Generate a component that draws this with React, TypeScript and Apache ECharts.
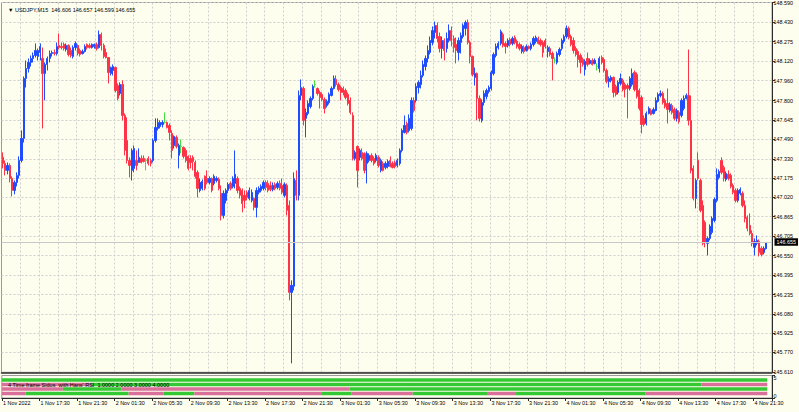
import React, { useEffect, useRef } from 'react';
import * as echarts from 'echarts';

const symbolName = 'USDJPY,M15';
const startTimeUtc = Date.UTC(2022, 10, 1, 13, 30);
const barMinutes = 15;
const emptySlotsRight = 2;

// candles: [open, close, low, high]
const nov1: number[][] = [
  [147.342, 147.293, 147.253, 147.382], [147.293, 147.237, 147.197, 147.317], [147.237, 147.277, 147.205, 147.301],
  [147.277, 147.172, 147.140, 147.293], [147.172, 147.076, 147.027, 147.189], [147.076, 147.140, 147.044, 147.156],
  [147.140, 147.197, 147.108, 147.221], [147.197, 147.317, 147.172, 147.350], [147.317, 147.495, 147.301, 147.559],
  [147.495, 147.978, 147.462, 147.994], [147.978, 148.058, 147.905, 148.123], [148.058, 148.107, 148.026, 148.139],
  [148.107, 148.139, 148.074, 148.163], [148.139, 148.163, 148.107, 148.187], [148.163, 148.203, 148.147, 148.260],
  [148.155, 148.203, 148.123, 148.219], [148.187, 148.236, 148.123, 148.260], [148.139, 148.018, 147.575, 148.227],
  [148.018, 148.091, 147.801, 148.107], [148.091, 148.139, 148.042, 148.155], [148.139, 148.179, 148.107, 148.203],
  [148.179, 148.187, 148.155, 148.203], [148.187, 148.179, 148.163, 148.211], [148.179, 148.236, 148.163, 148.268],
  [148.244, 148.227, 148.211, 148.340], [148.236, 148.227, 148.211, 148.268], [148.252, 148.219, 148.203, 148.268],
  [148.211, 148.244, 148.195, 148.260], [148.244, 148.171, 148.155, 148.252], [148.203, 148.163, 148.147, 148.227],
  [148.155, 148.227, 148.139, 148.244], [148.227, 148.260, 148.203, 148.276], [148.244, 148.179, 148.163, 148.252],
  [148.203, 148.171, 148.155, 148.219], [148.179, 148.195, 148.171, 148.211], [148.195, 148.236, 148.187, 148.252],
  [148.252, 148.227, 148.211, 148.260], [148.244, 148.227, 148.219, 148.260], [148.227, 148.252, 148.219, 148.260],
  [148.236, 148.252, 148.219, 148.260], [148.252, 148.219, 148.203, 148.268], [148.227, 148.332, 148.219, 148.364],
];

const nov2: number[][] = [
  [148.332, 148.244, 148.203, 148.348], [148.244, 148.155, 148.139, 148.260], [148.187, 148.147, 148.139, 148.219],
  [148.147, 148.026, 147.938, 148.147], [148.018, 148.066, 148.002, 148.074], [148.042, 148.074, 148.002, 148.091],
  [148.066, 147.881, 147.865, 148.074], [147.921, 147.817, 147.801, 147.938], [147.857, 147.929, 147.841, 147.946],
  [147.929, 147.680, 147.640, 147.962], [147.680, 147.398, 147.358, 147.696], [147.478, 147.317, 147.293, 147.664],
  [147.317, 147.277, 147.180, 147.342], [147.237, 147.398, 147.156, 147.414], [147.253, 147.414, 147.221, 147.438],
  [147.317, 147.277, 147.237, 147.398], [147.301, 147.342, 147.301, 147.414], [147.333, 147.301, 147.293, 147.358],
  [147.333, 147.309, 147.301, 147.358], [147.317, 147.317, 147.237, 147.333], [147.333, 147.293, 147.277, 147.350],
  [147.317, 147.293, 147.269, 147.333], [147.317, 147.478, 147.301, 147.495], [147.478, 147.583, 147.462, 147.656],
  [147.575, 147.623, 147.559, 147.656], [147.591, 147.623, 147.575, 147.640], [147.607, 147.623, 147.583, 147.640],
  [147.623, 147.623, 147.615, 147.704], [147.623, 147.583, 147.575, 147.631], [147.599, 147.543, 147.478, 147.615],
  [147.535, 147.398, 147.333, 147.559], [147.438, 147.511, 147.414, 147.519], [147.503, 147.430, 147.414, 147.519],
  [147.358, 147.438, 147.253, 147.454], [147.430, 147.430, 147.374, 147.487], [147.422, 147.350, 147.333, 147.430],
  [147.398, 147.317, 147.301, 147.414], [147.350, 147.253, 147.237, 147.358], [147.333, 147.301, 147.253, 147.358],
  [147.342, 147.309, 147.237, 147.358], [147.301, 147.189, 147.172, 147.317], [147.221, 147.092, 147.019, 147.237],
  [147.076, 147.140, 147.060, 147.172], [147.092, 147.148, 147.076, 147.164], [147.189, 147.092, 147.076, 147.197],
  [147.172, 147.140, 147.124, 147.237], [147.140, 147.172, 147.124, 147.189], [147.172, 147.076, 147.060, 147.180],
  [147.132, 147.189, 147.116, 147.205], [147.156, 147.172, 147.140, 147.189], [147.164, 147.092, 147.076, 147.180],
  [147.052, 146.874, 146.834, 147.116], [146.874, 147.052, 146.850, 147.076], [146.995, 147.076, 146.971, 147.092],
  [147.076, 147.124, 147.052, 147.140], [147.132, 147.092, 147.076, 147.148], [147.108, 147.172, 147.092, 147.189],
  [147.132, 147.205, 147.092, 147.398], [147.172, 147.076, 147.052, 147.189], [147.092, 147.036, 147.011, 147.108],
  [147.076, 146.971, 146.899, 147.092], [147.036, 146.995, 146.931, 147.076], [147.060, 147.019, 146.995, 147.076],
  [147.011, 147.076, 146.995, 147.100], [146.995, 147.060, 146.979, 147.084], [147.011, 146.939, 146.915, 147.019],
  [146.939, 147.076, 146.858, 147.100], [147.060, 147.092, 147.044, 147.108], [147.076, 147.108, 147.060, 147.124],
  [147.092, 147.140, 147.076, 147.156], [147.140, 147.100, 147.076, 147.156], [147.132, 147.076, 147.060, 147.156],
  [147.116, 147.084, 147.068, 147.148], [147.084, 147.116, 147.068, 147.140], [147.124, 147.092, 147.076, 147.140],
  [147.100, 147.132, 147.084, 147.148], [147.132, 147.092, 147.076, 147.156], [147.116, 147.060, 147.044, 147.172],
  [147.036, 147.124, 147.019, 147.140], [147.116, 146.915, 146.874, 147.132], [146.955, 146.254, 146.190, 146.995],
  [146.254, 146.311, 145.682, 146.351], [146.303, 147.172, 146.270, 147.221], [147.156, 147.036, 146.995, 147.237],
  [147.036, 147.841, 146.995, 147.881], [147.841, 147.905, 147.801, 147.970], [147.897, 147.640, 147.599, 147.913],
  [147.656, 147.704, 147.503, 147.736], [147.696, 147.776, 147.680, 147.801], [147.752, 147.817, 147.736, 147.833],
  [147.817, 147.913, 147.801, 147.929], [147.929, 147.929, 147.905, 147.962], [147.897, 147.857, 147.841, 147.905],
  [147.865, 147.825, 147.736, 147.881], [147.849, 147.809, 147.793, 147.865], [147.809, 147.736, 147.696, 147.825],
];

const nov3: number[][] = [
  [147.760, 147.793, 147.744, 147.809], [147.784, 147.849, 147.768, 147.865], [147.841, 147.897, 147.833, 147.913],
  [147.897, 147.978, 147.889, 148.002], [147.970, 147.929, 147.913, 148.002], [147.929, 147.889, 147.873, 147.946],
  [147.905, 147.865, 147.801, 147.921], [147.897, 147.865, 147.841, 147.913], [147.881, 147.825, 147.809, 147.897],
  [147.849, 147.776, 147.760, 147.865], [147.801, 147.704, 147.688, 147.825], [147.680, 147.333, 147.317, 147.704],
  [147.333, 147.382, 147.317, 147.398], [147.430, 147.237, 147.100, 147.438], [147.342, 147.398, 147.317, 147.414],
  [147.382, 147.333, 147.317, 147.414], [147.374, 147.237, 147.213, 147.382], [147.293, 147.374, 147.132, 147.390],
  [147.317, 147.358, 147.301, 147.374], [147.358, 147.317, 147.301, 147.374], [147.333, 147.293, 147.277, 147.350],
  [147.317, 147.358, 147.301, 147.374], [147.342, 147.277, 147.261, 147.358], [147.237, 147.317, 147.221, 147.333],
  [147.293, 147.237, 147.229, 147.309], [147.261, 147.293, 147.245, 147.309], [147.269, 147.309, 147.253, 147.325],
  [147.317, 147.269, 147.261, 147.350], [147.293, 147.261, 147.253, 147.309], [147.301, 147.269, 147.253, 147.317],
  [147.277, 147.317, 147.261, 147.333], [147.293, 147.398, 147.277, 147.414], [147.398, 147.559, 147.382, 147.575],
  [147.543, 147.599, 147.535, 147.680], [147.615, 147.543, 147.527, 147.631], [147.559, 147.656, 147.543, 147.688],
  [147.575, 147.801, 147.559, 147.825], [147.801, 147.720, 147.704, 147.825], [147.801, 147.913, 147.784, 147.938],
  [147.905, 147.946, 147.857, 147.962], [147.929, 148.002, 147.897, 148.042], [148.002, 148.091, 147.986, 148.123],
  [148.074, 148.139, 148.042, 148.163], [148.139, 148.203, 148.107, 148.244], [148.187, 148.284, 148.171, 148.316],
  [148.268, 148.364, 148.244, 148.397], [148.348, 148.405, 148.300, 148.437], [148.405, 148.300, 148.268, 148.429],
  [148.316, 148.219, 148.187, 148.348], [148.219, 148.284, 148.139, 148.316], [148.284, 148.203, 148.123, 148.300],
  [148.219, 148.300, 148.187, 148.348], [148.284, 148.364, 148.268, 148.413], [148.364, 148.284, 148.236, 148.397],
  [148.300, 148.227, 148.187, 148.324], [148.252, 148.203, 148.099, 148.308], [148.187, 148.284, 148.123, 148.308],
  [148.268, 148.324, 148.179, 148.348], [148.316, 148.405, 148.300, 148.421], [148.381, 148.429, 148.324, 148.445],
  [148.429, 148.268, 148.252, 148.453], [148.268, 148.155, 148.099, 148.284], [148.155, 148.010, 147.994, 148.163],
  [147.986, 148.018, 147.921, 148.066], [148.018, 147.817, 147.640, 148.026], [147.817, 147.656, 147.631, 147.841],
  [147.640, 147.784, 147.623, 147.809], [147.784, 147.857, 147.760, 147.881], [147.833, 147.881, 147.809, 147.897],
  [147.873, 147.905, 147.857, 147.921], [147.897, 148.026, 147.881, 148.042], [148.018, 148.171, 148.002, 148.187],
  [148.163, 148.236, 148.147, 148.260], [148.227, 148.260, 148.211, 148.276], [148.260, 148.356, 148.244, 148.372],
  [148.332, 148.244, 148.227, 148.348], [148.260, 148.236, 148.179, 148.276], [148.244, 148.284, 148.227, 148.300],
  [148.292, 148.252, 148.236, 148.308], [148.260, 148.300, 148.244, 148.316], [148.308, 148.268, 148.252, 148.324],
  [148.276, 148.236, 148.219, 148.292], [148.252, 148.219, 148.203, 148.268], [148.195, 148.236, 148.179, 148.252],
  [148.227, 148.195, 148.179, 148.244], [148.203, 148.236, 148.195, 148.252], [148.236, 148.219, 148.211, 148.244],
  [148.219, 148.252, 148.203, 148.268], [148.252, 148.300, 148.236, 148.316], [148.276, 148.308, 148.260, 148.324],
  [148.300, 148.260, 148.252, 148.316], [148.284, 148.252, 148.236, 148.300], [148.268, 148.187, 148.147, 148.284],
  [148.284, 148.236, 148.219, 148.300], [148.195, 148.227, 148.147, 148.244], [148.219, 148.171, 148.155, 148.236],
];

const nov4: number[][] = [
  [148.179, 148.139, 147.962, 148.195], [148.123, 148.123, 148.099, 148.147], [148.107, 148.179, 148.091, 148.195],
  [148.171, 148.211, 148.155, 148.227], [148.219, 148.284, 148.203, 148.300], [148.276, 148.316, 148.260, 148.332],
  [148.316, 148.381, 148.300, 148.405], [148.381, 148.308, 148.292, 148.397], [148.316, 148.252, 148.236, 148.332],
  [148.284, 148.203, 148.179, 148.308], [148.219, 148.171, 148.155, 148.236], [148.195, 148.131, 148.066, 148.211],
  [148.163, 148.107, 148.018, 148.179], [148.131, 148.091, 148.074, 148.147], [148.050, 148.115, 148.002, 148.131],
  [148.139, 148.091, 148.074, 148.187], [148.099, 148.123, 148.091, 148.139], [148.123, 148.091, 148.082, 148.139],
  [148.099, 148.123, 148.091, 148.139], [148.074, 148.074, 148.042, 148.099], [148.058, 148.139, 148.026, 148.155],
  [148.147, 148.107, 148.091, 148.163], [148.131, 148.042, 148.026, 148.147], [148.042, 147.954, 147.938, 148.058],
  [147.954, 147.978, 147.905, 147.994], [147.962, 147.986, 147.946, 148.002], [147.986, 147.865, 147.825, 147.994],
  [147.913, 147.849, 147.833, 147.929], [147.865, 147.946, 147.849, 147.962], [147.938, 147.978, 147.921, 148.018],
  [147.962, 147.889, 147.873, 147.978], [147.929, 147.889, 147.825, 147.946], [147.921, 147.897, 147.656, 147.938],
  [147.897, 147.978, 147.881, 147.994], [147.929, 148.018, 147.913, 148.058], [148.026, 147.889, 147.873, 148.042],
  [148.010, 147.833, 147.817, 148.026], [147.881, 147.736, 147.720, 147.897], [147.825, 147.607, 147.535, 147.841],
  [147.656, 147.607, 147.591, 147.680], [147.615, 147.696, 147.599, 147.712], [147.696, 147.736, 147.688, 147.752],
  [147.720, 147.688, 147.680, 147.736], [147.696, 147.728, 147.688, 147.744], [147.720, 147.801, 147.712, 147.825],
  [147.793, 147.849, 147.784, 147.865], [147.841, 147.857, 147.825, 147.881], [147.857, 147.784, 147.768, 147.873],
  [147.801, 147.752, 147.736, 147.817], [147.776, 147.728, 147.615, 147.897], [147.720, 147.768, 147.704, 147.784],
  [147.760, 147.704, 147.688, 147.776], [147.728, 147.656, 147.640, 147.744], [147.656, 147.720, 147.631, 147.736],
  [147.704, 147.631, 147.615, 147.720], [147.680, 147.801, 147.664, 147.817], [147.736, 147.817, 147.720, 147.841],
  [147.817, 147.841, 147.809, 147.857], [147.841, 147.640, 147.599, 148.211], [147.640, 147.237, 147.213, 147.841],
  [147.253, 147.011, 146.995, 147.277], [147.011, 147.156, 146.931, 147.172], [147.317, 147.172, 147.156, 147.382],
  [147.156, 146.915, 146.899, 147.172], [146.955, 146.649, 146.633, 146.995], [146.818, 146.657, 146.617, 146.834],
  [146.649, 146.689, 146.552, 146.705], [146.689, 146.786, 146.673, 146.802], [146.737, 146.850, 146.721, 146.866],
  [146.834, 147.003, 146.818, 147.019], [146.995, 147.205, 146.979, 147.253], [147.180, 147.229, 147.164, 147.245],
  [147.317, 147.221, 147.205, 147.342], [147.261, 147.172, 147.148, 147.277], [147.164, 147.213, 147.148, 147.229],
  [147.205, 147.172, 147.156, 147.237], [147.197, 147.108, 147.092, 147.213], [147.116, 147.060, 147.044, 147.132],
  [147.076, 146.995, 146.979, 147.092], [146.995, 147.076, 146.979, 147.092], [147.052, 147.084, 147.036, 147.100],
  [147.052, 146.955, 146.939, 147.068], [146.955, 146.850, 146.818, 146.995], [146.858, 146.770, 146.746, 146.874],
  [146.794, 146.729, 146.713, 146.891], [146.729, 146.649, 146.625, 146.754], [146.617, 146.665, 146.552, 146.689],
  [146.649, 146.673, 146.633, 146.713], [146.665, 146.576, 146.544, 146.681], [146.609, 146.560, 146.544, 146.625],
  [146.576, 146.609, 146.560, 146.625], [146.606, 146.655, 146.599, 146.657],
];

const priceTicks = [
  145.61, 145.77, 145.925, 146.08, 146.235, 146.395, 146.55, 146.705, 146.865, 147.02,
  147.175, 147.33, 147.49, 147.645, 147.8, 147.96, 148.12, 148.275, 148.43, 148.59,
];
const priceMin = 145.61;
const priceMax = 148.59;

const timeTickLabels = [
  '1 Nov 2022', '1 Nov 17:30', '1 Nov 21:30', '2 Nov 01:30', '2 Nov 05:30', '2 Nov 09:30', '2 Nov 13:30',
  '2 Nov 17:30', '2 Nov 21:30', '3 Nov 01:30', '3 Nov 05:30', '3 Nov 09:30', '3 Nov 13:30', '3 Nov 17:30',
  '3 Nov 21:30', '4 Nov 01:30', '4 Nov 05:30', '4 Nov 09:30', '4 Nov 13:30', '4 Nov 17:30', '4 Nov 21:30',
];
const barsPerLabel = 16;
const barsPerGrid = 8;

const indicatorTitle = "4 Time frame Sidus  with Hans' RSI  1.0000 2.0000 3.0000 4.0000";
const indicatorAxisValues = [0, 5];
// [startBar, endBar, trend] ; trend 1 = up (green), -1 = down (pink)
const tfLevel4 = [[0, 325, 1]];
const tfLevel3 = [[0, 37, -1], [38, 297, 1], [298, 325, -1]];
const tfLevel2 = [[0, 25, -1], [26, 50, 1], [51, 147, -1], [148, 325, 1]];
const tfLevel1 = [
  [0, 9, -1], [10, 53, 1], [54, 68, -1], [69, 81, 1], [82, 135, -1], [136, 148, 1],
  [149, 174, -1], [175, 206, 1], [207, 218, -1], [219, 273, 1], [274, 325, -1],
];

const BG = '#fefeee';
const BLUE = '#1f4cff';
const RED = '#ff3347';
const DOJI = '#3fe03f';
const GRID = '#cfcfcf';
const FRAME = '#9a9a9a';
const DARK = '#2a2a2a';
const UPBAR = '#34c934';
const DNBAR = '#d9709a';
const FONT = "'Liberation Sans', Arial, sans-serif";

function buildOption() {
  const candles = [...nov1, ...nov2, ...nov3, ...nov4];
  const months = ['Jan', 'Feb', 'Mar', 'Apr', 'May', 'Jun', 'Jul', 'Aug', 'Sep', 'Oct', 'Nov', 'Dec'];
  const categories: string[] = [];
  for (let i = 0; i < candles.length + emptySlotsRight; i++) {
    const d = new Date(startTimeUtc + i * barMinutes * 60000);
    const hh = String(d.getUTCHours()).padStart(2, '0');
    const mm = String(d.getUTCMinutes()).padStart(2, '0');
    categories.push(`${d.getUTCDate()} ${months[d.getUTCMonth()]} ${hh}:${mm}`);
  }
  const last = candles[candles.length - 1];
  const header = `${symbolName}\u00a0\u00a0${last[0].toFixed(3)} ${last[3].toFixed(3)} ${last[2].toFixed(3)} ${last[1].toFixed(3)}`;
  const indicatorText = indicatorTitle.replace(/  /g, '\u00a0 ');

  const segs: number[][] = [];
  ([[4, tfLevel4], [3, tfLevel3], [2, tfLevel2], [1, tfLevel1]] as [number, number[][]][]).forEach(([lvl, arr]) => {
    arr.forEach(([s, e, t]) => segs.push([s, e, lvl, t]));
  });

  const labelShown = (i: number) => i % barsPerLabel === 0 && i / barsPerLabel < timeTickLabels.length;
  const gridShown = (i: number) => i % barsPerGrid === 0 && i > 0;

  const L = 1.5;
  const R = 27;

  return {
    animation: false,
    backgroundColor: BG,
    title: [
      {
        text: '▼ ' + header,
        left: 3,
        top: 2,
        textStyle: { fontSize: 5.5, fontWeight: 'normal', color: '#000', fontFamily: FONT },
      },
      {
        text: indicatorText,
        left: 3,
        top: 376.5,
        z: 10,
        textStyle: { fontSize: 5.5, fontWeight: 'normal', color: '#000', fontFamily: FONT },
      },
    ],
    grid: [
      { left: L, right: R, top: 2.5, bottom: 412 - 372.3, show: true, borderColor: FRAME, borderWidth: 1, backgroundColor: 'transparent' },
      { left: L, right: R, top: 375.5, bottom: 412 - 398, show: true, borderColor: FRAME, borderWidth: 1, backgroundColor: 'transparent' },
    ],
    xAxis: [
      {
        type: 'category',
        gridIndex: 0,
        data: categories,
        boundaryGap: true,
        axisLine: { show: true, lineStyle: { color: DARK, width: 1.5 } },
        axisTick: { show: false },
        axisLabel: { show: false },
        splitLine: { show: true, interval: (i: number) => gridShown(i), lineStyle: { color: GRID, type: [2, 2], width: 1 } },
      },
      {
        type: 'category',
        gridIndex: 1,
        data: categories,
        boundaryGap: true,
        axisLine: { show: true, lineStyle: { color: DARK, width: 1 } },
        axisTick: { show: true, length: 3, interval: (i: number) => labelShown(i), lineStyle: { color: DARK } },
        axisLabel: {
          show: true,
          interval: (i: number) => labelShown(i),
          formatter: (_v: string, i: number) => (labelShown(i) ? timeTickLabels[i / barsPerLabel] : ''),
          align: 'left',
          margin: 2.5,
          fontSize: 5.4,
          color: '#000',
          fontFamily: FONT,
          hideOverlap: false,
        },
        splitLine: { show: false },
      },
    ],
    yAxis: [
      {
        type: 'value',
        gridIndex: 0,
        position: 'right',
        min: priceMin,
        max: priceMax,
        axisLine: { show: true, lineStyle: { color: DARK, width: 1 } },
        axisTick: { show: true, length: 3, inside: false, customValues: priceTicks, lineStyle: { color: DARK } },
        axisLabel: {
          show: true,
          customValues: priceTicks,
          formatter: (v: number) => v.toFixed(3),
          margin: 1.5,
          fontSize: 5.4,
          color: '#000',
          fontFamily: FONT,
        },
        splitLine: { show: true, lineStyle: { color: GRID, type: [2, 2], width: 1 } },
      },
      {
        type: 'value',
        gridIndex: 1,
        position: 'right',
        min: 0,
        max: 5,
        axisLine: { show: true, lineStyle: { color: DARK, width: 1 } },
        axisTick: { show: true, length: 3, customValues: [indicatorAxisValues[1]], lineStyle: { color: DARK } },
        axisLabel: {
          show: true,
          customValues: [indicatorAxisValues[1]],
          verticalAlign: 'top',
          margin: 1.5,
          fontSize: 5.4,
          color: '#000',
          fontFamily: FONT,
        },
        splitLine: { show: false },
      },
      {
        type: 'value',
        gridIndex: 1,
        position: 'right',
        offset: 0,
        min: 0,
        max: 5,
        axisLine: { show: false },
        axisTick: { show: true, length: 3, customValues: [indicatorAxisValues[0]], lineStyle: { color: DARK } },
        axisLabel: {
          show: true,
          customValues: [indicatorAxisValues[0]],
          verticalAlign: 'bottom',
          margin: 1.5,
          fontSize: 5.4,
          color: '#000',
          fontFamily: FONT,
        },
        splitLine: { show: false },
      },
    ],
    series: [
      {
        type: 'candlestick',
        xAxisIndex: 0,
        yAxisIndex: 0,
        data: candles,
        barWidth: 1.8,
        itemStyle: {
          color: BLUE,
          color0: RED,
          borderColor: BLUE,
          borderColor0: RED,
          borderColorDoji: DOJI,
          borderWidth: 1,
        },
        markLine: {
          silent: true,
          symbol: 'none',
          animation: false,
          lineStyle: { color: '#c8c8c8', type: 'solid', width: 1 },
          label: {
            show: true,
            position: 'end',
            distance: 2.5,
            formatter: () => last[1].toFixed(3),
            backgroundColor: '#000',
            color: '#fff',
            fontSize: 5.4,
            fontFamily: FONT,
            padding: [1.5, 2, 1, 2],
          },
          data: [{ yAxis: last[1] }],
        },
      },
      {
        type: 'custom',
        xAxisIndex: 1,
        yAxisIndex: 1,
        data: segs,
        encode: { x: [0, 1], y: 2 },
        clip: true,
        renderItem: (_params: any, api: any) => {
          const s = api.value(0);
          const e = api.value(1);
          const lvl = api.value(2);
          const t = api.value(3);
          const p0 = api.coord([s, lvl]);
          const p1 = api.coord([e, lvl]);
          const bw = api.size([1, 0])[0];
          const h = api.size([0, 0.76])[1];
          return {
            type: 'rect',
            shape: { x: p0[0] - bw / 2, y: p0[1] - h / 2, width: p1[0] - p0[0] + bw, height: h },
            style: { fill: t > 0 ? UPBAR : DNBAR },
          };
        },
      },
    ],
  };
}

export default function App() {
  const ref = useRef<HTMLDivElement>(null);
  useEffect(() => {
    if (!ref.current) return;
    const chart = echarts.init(ref.current, undefined, { renderer: 'svg' });
    chart.setOption(buildOption() as any);
    return () => chart.dispose();
  }, []);
  return (
    <div
      ref={ref}
      style={{ position: 'absolute', left: 0, top: 0, width: 799, height: 412, background: BG }}
    />
  );
}
